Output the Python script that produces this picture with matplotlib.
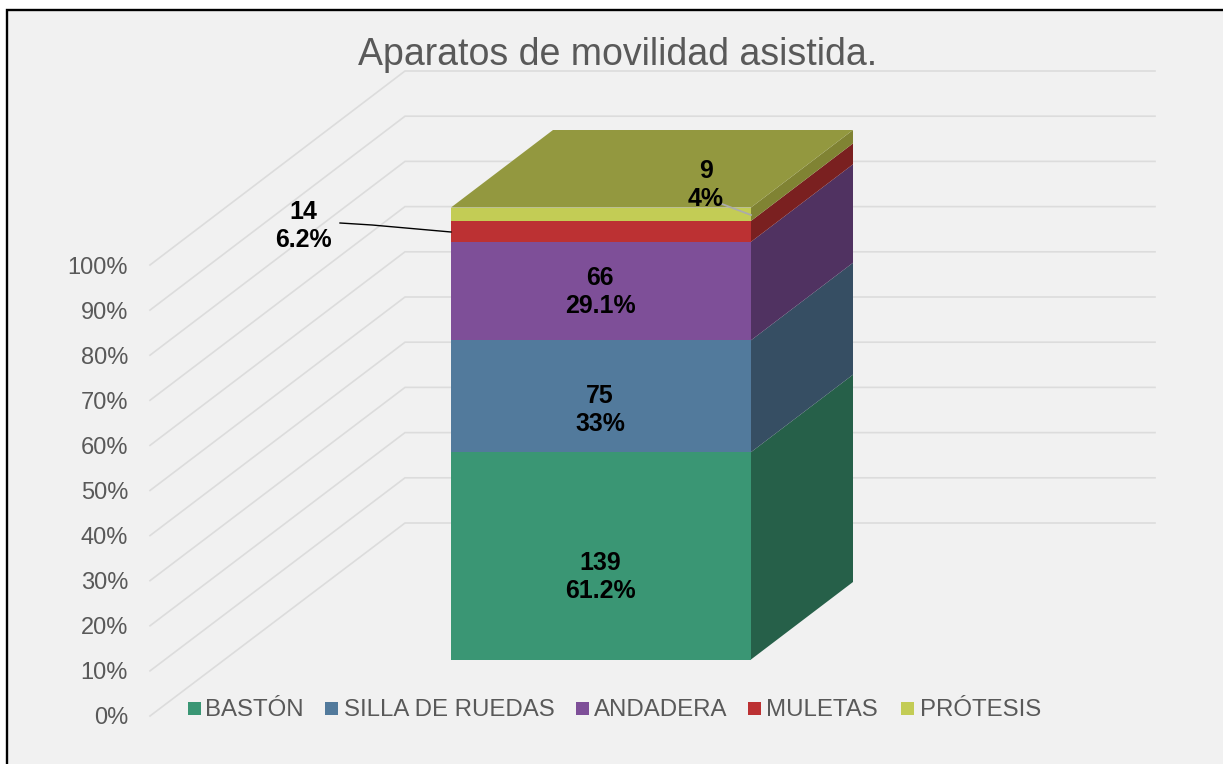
import matplotlib
matplotlib.use('Agg')
import matplotlib.pyplot as plt
from matplotlib.patches import Polygon, Rectangle

plt.rcParams['font.family'] = ['Liberation Sans', 'DejaVu Sans']

title = 'Aparatos de movilidad asistida.'
categories = ['BASTÓN', 'SILLA DE RUEDAS', 'ANDADERA', 'MULETAS', 'PRÓTESIS']
counts = [139, 75, 66, 14, 9]
shares = ['61.2%', '33%', '29.1%', '6.2%', '4%']
ticks = [0, 10, 20, 30, 40, 50, 60, 70, 80, 90, 100]

front_colors = ['#3A9674', '#527A9C', '#7E4F98', '#BC3133', '#C3CC55']
side_colors = ['#266049', '#364E63', '#503261', '#7A2020', '#808333']
top_color = '#93983F'
bg = '#F1F1F1'
grid_color = '#DCDCDC'
text_gray = '#595959'

# the axes run in reference pixels, the 3D look is a fixed oblique projection
PX = 1 / 100
W, H = 1223, 764
fig = plt.figure(figsize=(W * PX, H * PX), dpi=100, facecolor='white')
ax = fig.add_axes([0, 0, 1, 1])
ax.set_xlim(0, W)
ax.set_ylim(H, 0)
ax.axis('off')

ax.add_patch(Rectangle((7, 10), W, H, fc=bg, ec='black', lw=1.7, zorder=0))


def wall_y(pct, back=False):
    if back:
        return 523 - pct * 4.52
    return 716 - pct * 4.51


def bar_y(pct):
    return 659.5 - pct * 4.52


# gridlines: front edge, back corner, along the back wall
for t in ticks:
    ax.plot([150, 405, 1155], [wall_y(t), wall_y(t, True), wall_y(t, True)],
            color=grid_color, lw=1.2, zorder=1, solid_joinstyle='miter')
    ax.text(128, wall_y(t) + 2.5, '%d%%' % t, ha='right', va='center',
            fontsize=17, color=text_gray)

# stacked bar, each layer as share of the total count
x0, x1 = 451, 751
dx, dy = 102, -77.5
total = sum(counts)
base = 0
for i, c in enumerate(counts):
    top = base + c / total * 100
    yb, yt = bar_y(base), bar_y(top)
    ax.add_patch(Polygon([(x0, yb), (x1, yb), (x1, yt), (x0, yt)],
                         fc=front_colors[i], ec='none', zorder=3))
    ax.add_patch(Polygon([(x1, yb), (x1 + dx, yb + dy), (x1 + dx, yt + dy), (x1, yt)],
                         fc=side_colors[i], ec='none', zorder=3))
    base = top
yt = bar_y(100)
ax.add_patch(Polygon([(x0, yt), (x1, yt), (x1 + dx, yt + dy), (x0 + dx, yt + dy)],
                     fc=top_color, ec='none', zorder=3))

# leader lines
ax.plot([340, 372, 451], [223, 225, 232], color='black', lw=1.0, zorder=4)
ax.plot([722, 751], [204, 215], color='#ABABAB', lw=1.3, zorder=4)

# data labels
label_pos = [(600, 577), (600, 410), (600, 292), (303, 226), (706, 185)]
for c, s, (lx, ly) in zip(counts, shares, label_pos):
    ax.text(lx, ly, '%d\n%s' % (c, s), ha='center', va='center', fontsize=17.9,
            fontweight='bold', color='black', linespacing=1.17, zorder=5)

ax.text(618, 55, title, ha='center', va='center', fontsize=27, color=text_gray)

# legend
swatch_x = [188, 325, 576, 748, 901]
label_x = [205, 344, 594, 766, 920]
for name, col, sx, tx in zip(categories, front_colors, swatch_x, label_x):
    ax.add_patch(Rectangle((sx, 702), 12.5, 13, fc=col, ec='none', zorder=3))
    ax.text(tx, 710, name, ha='left', va='center', fontsize=17.3, color=text_gray)

fig.savefig('out.png', dpi=100, facecolor='white')
